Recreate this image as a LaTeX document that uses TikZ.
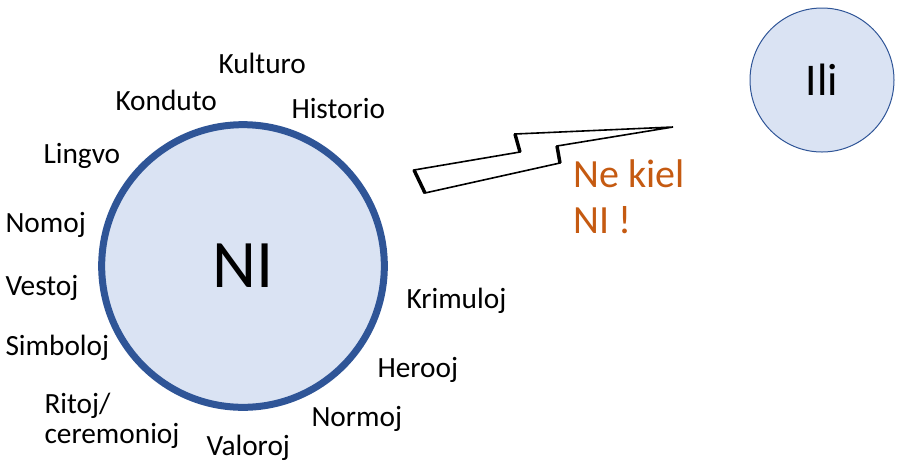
\documentclass[tikz,border=0pt]{standalone}
\usepackage{fontspec}
\setmainfont{Carlito}
\definecolor{nifill}{RGB}{218,227,243}
\definecolor{niline}{RGB}{47,85,151}
\definecolor{kielorange}{RGB}{197,90,17}
\tikzset{every picture/.style={line width=0.75pt}}
\tikzset{
  bigcirc/.style={circle,draw=niline,fill=nifill,line width=5.25pt,minimum size=212pt,inner sep=0pt,font=\fontsize{51}{60}\selectfont},
  smallcirc/.style={circle,draw=niline,fill=nifill,line width=0.75pt,minimum size=108pt,inner sep=0pt,font=\fontsize{34}{40}\selectfont},
  lbl/.style={anchor=base west,inner sep=0pt,font=\fontsize{22}{26}\selectfont},
  kiel/.style={anchor=base west,inner sep=0pt,text=kielorange,font=\fontsize{30}{36}\selectfont}
}

\begin{document}
\begin{tikzpicture}[x=0.75pt,y=0.75pt,yscale=-1,xscale=1]
\useasboundingbox (0,0) rectangle (900,462);
%Shape: Circle [NI]
\node [bigcirc] (ni) at (243,266) {NI};
%Shape: Circle [Ili]
\node [smallcirc] (ili) at (822,80) {Ili};
%Shape: Bolt
\draw [line width=1.2pt,line join=miter] (414,170) -- (520,152) -- (515,134) -- (673,127) -- (557,146) -- (560,163) -- (425,193) -- cycle ;
\draw [line width=2.6pt] (414,170) -- (425,193) (520,152) -- (515,134) (557,146) -- (560,163) ;

% Text Node
\draw (218,73) node [lbl] (kulturo) {Kulturo};
% Text Node
\draw (115,110) node [lbl] (konduto) {Konduto};
% Text Node
\draw (291,118) node [lbl] (historio) {Historio};
% Text Node
\draw (43,163) node [lbl] (lingvo) {Lingvo};
% Text Node
\draw (5,232) node [lbl] (nomoj) {Nomoj};
% Text Node
\draw (5,295) node [lbl] (vestoj) {Vestoj};
% Text Node
\draw (5,355) node [lbl] (simboloj) {Simboloj};
% Text Node
\draw (44,413) node [lbl] (ritoj) {Ritoj/};
% Text Node
\draw (44,443) node [lbl] (ceremonioj) {ceremonioj};
% Text Node
\draw (206,455) node [lbl] (valoroj) {Valoroj};
% Text Node
\draw (311,426) node [lbl] (normoj) {Normoj};
% Text Node
\draw (377,377) node [lbl] (herooj) {Herooj};
% Text Node
\draw (406,308) node [lbl] (krimuloj) {Krimuloj};
% Text Node
\draw (573,187) node [kiel] (nekiel) {Ne kiel};
% Text Node
\draw (573,233) node [kiel] (niekkr) {NI !};
\end{tikzpicture}
\end{document}
